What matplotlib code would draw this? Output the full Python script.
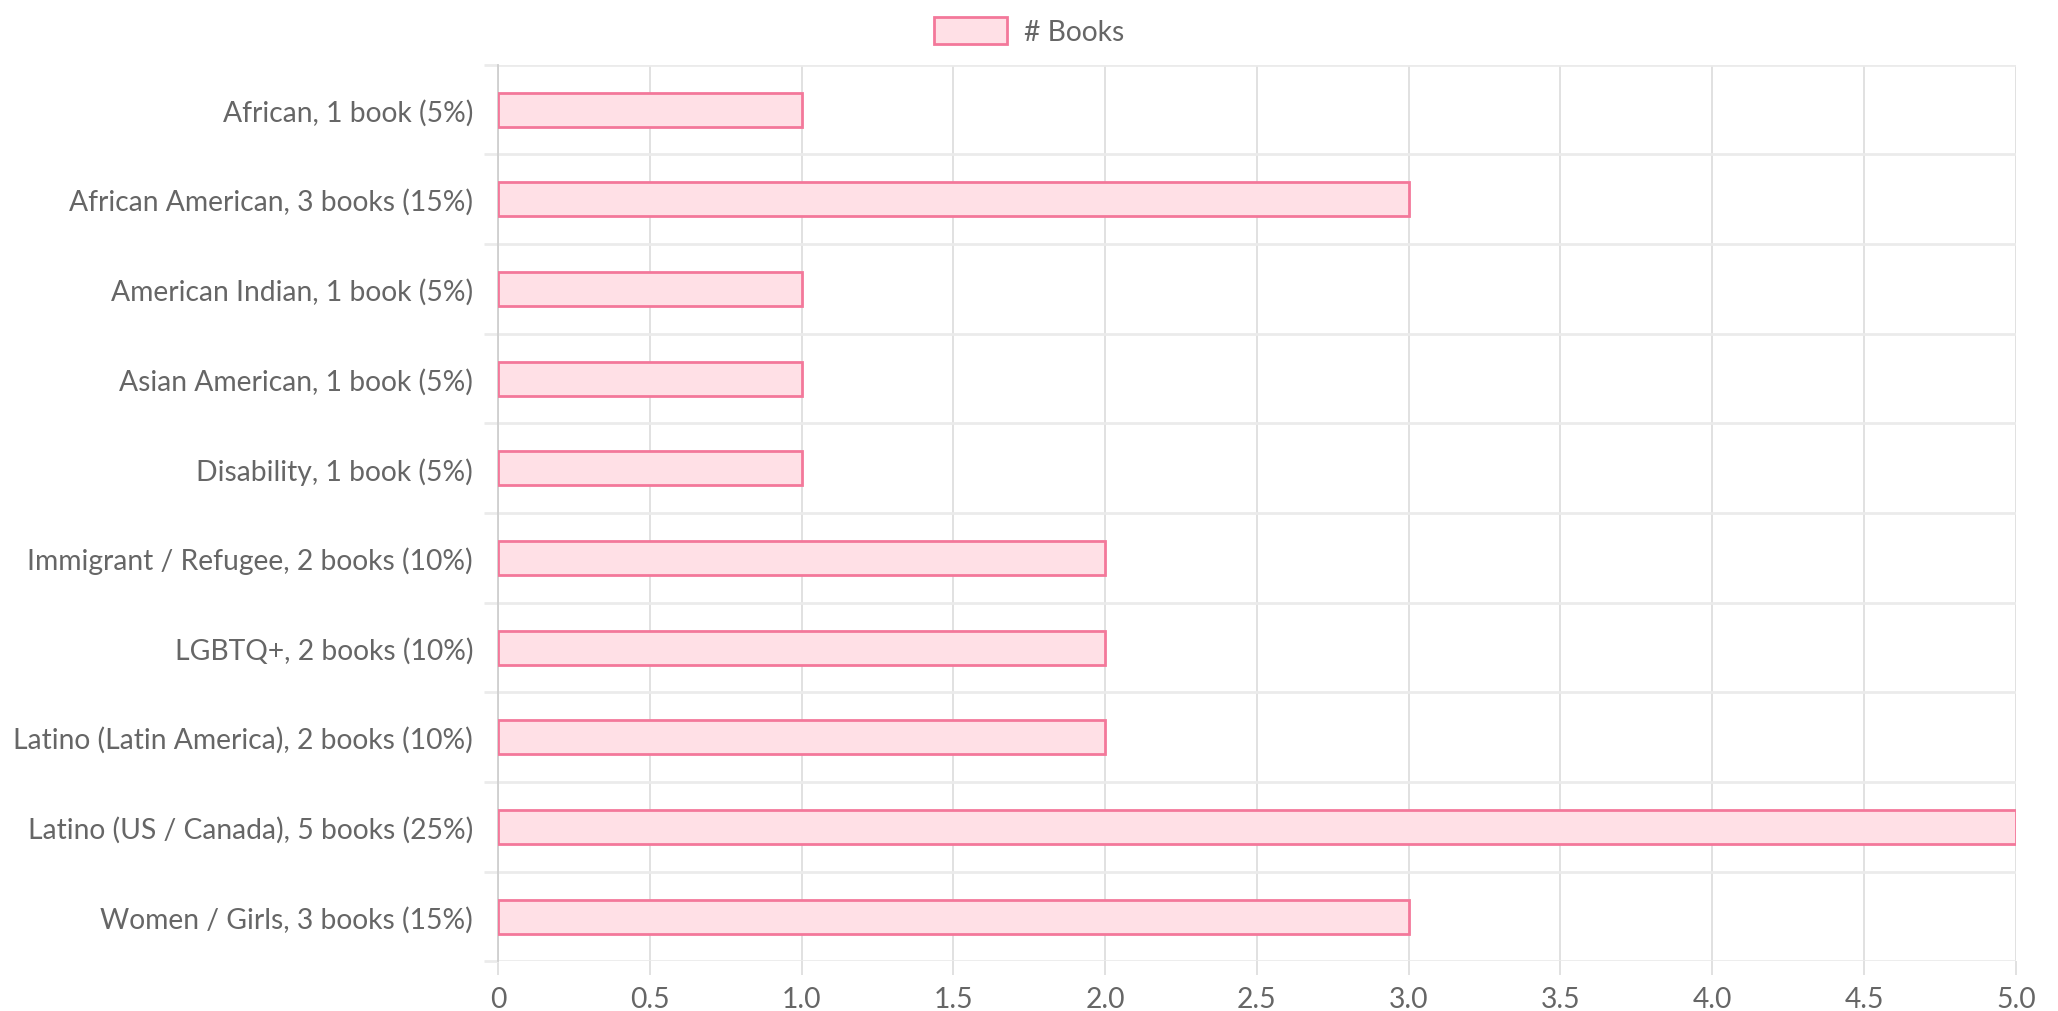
import matplotlib.pyplot as plt
from matplotlib.patches import Patch

categories = [
    "African, 1 book (5%)",
    "African American, 3 books (15%)",
    "American Indian, 1 book (5%)",
    "Asian American, 1 book (5%)",
    "Disability, 1 book (5%)",
    "Immigrant / Refugee, 2 books (10%)",
    "LGBTQ+, 2 books (10%)",
    "Latino (Latin America), 2 books (10%)",
    "Latino (US / Canada), 5 books (25%)",
    "Women / Girls, 3 books (15%)",
]
books = [1, 3, 1, 1, 1, 2, 2, 2, 5, 3]
x_ticks = [0, 0.5, 1.0, 1.5, 2.0, 2.5, 3.0, 3.5, 4.0, 4.5, 5.0]
x_labels = ["0", "0.5", "1.0", "1.5", "2.0", "2.5", "3.0", "3.5", "4.0", "4.5", "5.0"]

plt.rcParams['font.family'] = ['Lato', 'DejaVu Sans']

fill = (1.0, 0.878, 0.902)
edge = "#f3789a"
hgrid = "#ebebeb"
vgrid = "#dcdcdc"
text_c = "#666666"

fig = plt.figure(figsize=(20.58, 10.12), dpi=100)
ax = fig.add_axes([0.242, 0.049, 0.7375, 0.886])

pos = list(range(len(categories)))
ax.barh(pos, books, height=0.38, color=fill, edgecolor=edge, linewidth=2, zorder=3)

ax.set_xlim(0, 5)
ax.set_ylim(len(categories) - 0.5, -0.5)

ax.set_yticks(pos)
ax.set_yticklabels(categories)
ax.set_yticks([p - 0.5 for p in pos] + [len(categories) - 0.5], minor=True)
ax.tick_params(axis='y', which='major', length=0, pad=18, labelsize=20.3, labelcolor=text_c)
ax.tick_params(axis='y', which='minor', length=10, color=hgrid, width=2)

ax.set_xticks(x_ticks)
ax.set_xticklabels(x_labels)
ax.tick_params(axis='x', which='major', length=10, color=vgrid, width=1.2,
               pad=8, labelsize=20.3, labelcolor=text_c)

ax.grid(axis='x', which='major', color=vgrid, linewidth=1.2, zorder=0)
ax.grid(axis='y', which='minor', color=hgrid, linewidth=2, zorder=0)
ax.set_axisbelow(True)
for s in ax.spines.values():
    s.set_visible(False)
ax.spines['left'].set_visible(True)
ax.spines['left'].set_color("#cfcfcf")
ax.spines['left'].set_linewidth(1.3)

handle = Patch(facecolor=fill, edgecolor=edge, linewidth=2)
fig.legend([handle], ["# Books"], loc='center', bbox_to_anchor=(0.5, 0.968),
           frameon=False, fontsize=20.3, labelcolor=text_c,
           handlelength=2.6, handleheight=1.1, handletextpad=0.6)

fig.savefig("out.png", dpi=100, facecolor="white")
